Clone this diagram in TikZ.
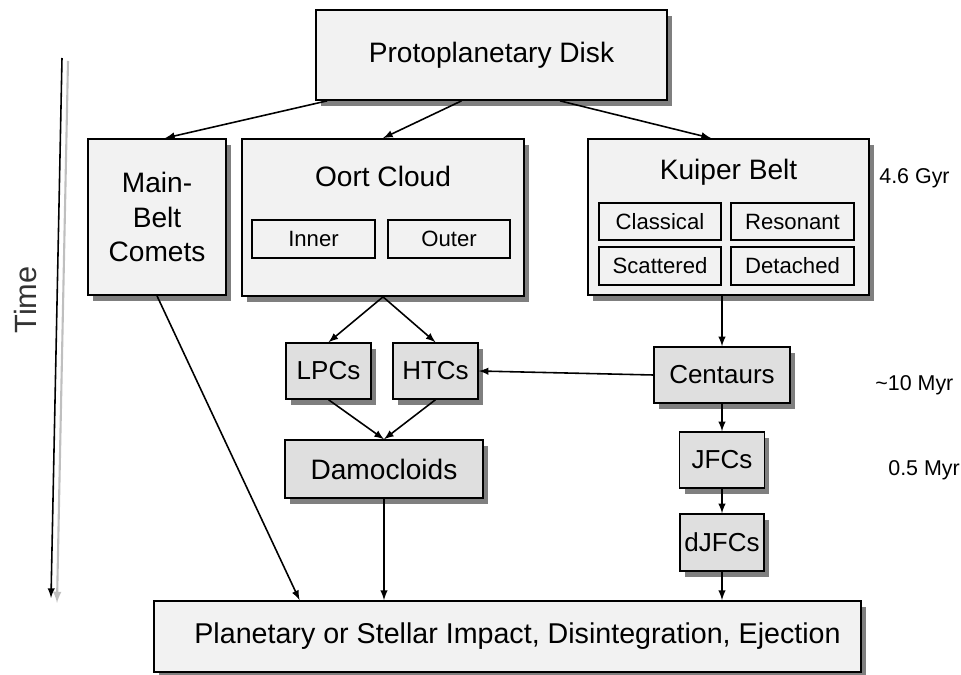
\documentclass[tikz,border=0pt]{standalone}
\usepackage{fontspec}
\setmainfont{Liberation Sans}
\usetikzlibrary{shadows}
\definecolor{boxlight}{HTML}{F2F2F2}
\definecolor{boxdark}{HTML}{DFDFDF}
\definecolor{shadowgray}{HTML}{7F7F7F}
\begin{document}
\begin{tikzpicture}[x=0.02cm,y=-0.02cm,
    bigbox/.style={draw,line width=1pt,fill=boxlight,inner sep=0pt,
        drop shadow={shadow xshift=0.1cm,shadow yshift=-0.12cm,fill=shadowgray,opacity=1},
        font=\fontsize{16}{19.6}\selectfont},
    subbox/.style={draw,line width=1.4pt,fill=boxlight,inner sep=0pt,
        minimum width=2.45cm,minimum height=0.75cm,font=\fontsize{12.6}{15}\selectfont},
    smallbox/.style={draw,line width=0.8pt,fill=boxdark,inner sep=0pt,
        drop shadow={shadow xshift=0.1cm,shadow yshift=-0.12cm,fill=shadowgray,opacity=1},
        minimum height=1.12cm,font=\fontsize{14.8}{17}\selectfont},
    title/.style={anchor=base,font=\fontsize{16}{19.6}\selectfont},
    timenote/.style={anchor=west,inner sep=0pt,font=\fontsize{12.2}{14}\selectfont},
    conn/.style={-latex,line width=0.9pt}]
    \useasboundingbox (0,0) rectangle (961,675);
    %source
    \node[bigbox,minimum width=7.02cm,minimum height=1.8cm] (proto) at (491.5,55) {Protoplanetary Disk};
    %reservoirs
    \node[bigbox,minimum width=2.76cm,minimum height=3.12cm,align=center] (mbc) at (157,217) {Main-\\Belt\\Comets};
    \node[bigbox,minimum width=5.64cm,minimum height=3.14cm] (oort) at (383,217.5) {};
    \node[title] (oorttitle) at (383,187) {Oort Cloud};
    \node[subbox] (inner) at (313.5,239) {Inner};
    \node[subbox] (outer) at (449,239) {Outer};
    \node[bigbox,minimum width=5.62cm,minimum height=3.12cm] (kuiper) at (728.5,217) {};
    \node[title] (kuipertitle) at (728.5,180) {Kuiper Belt};
    \node[subbox] (classical) at (660,221.5) {Classical};
    \node[subbox] (resonant) at (792.5,221.5) {Resonant};
    \node[subbox] (scattered) at (660,266) {Scattered};
    \node[subbox] (detached) at (792.5,266) {Detached};
    %populations
    \node[smallbox,minimum width=1.7cm] (lpcs) at (328.5,371) {LPCs};
    \node[smallbox,minimum width=1.7cm] (htcs) at (435.5,371) {HTCs};
    \node[smallbox,minimum width=3.96cm,minimum height=1.16cm,font=\fontsize{16}{19}\selectfont] (damo) at (384,469) {Damocloids};
    \node[smallbox,minimum width=2.72cm] (cent) at (722,375) {Centaurs};
    \node[smallbox,minimum width=1.7cm] (jfc) at (722,460) {JFCs};
    \node[smallbox,minimum width=1.68cm,minimum height=1.14cm] (djfc) at (722,542.5) {dJFCs};
    %end states
    \node[bigbox,minimum width=14.14cm,minimum height=1.42cm,font=\fontsize{16.3}{19}\selectfont] (end) at (507.5,636.5) {\hspace{0.4cm}Planetary or Stellar Impact, Disintegration, Ejection};
    %flows
    \draw[conn] ([xshift=0.24cm]proto.south west) -- ([xshift=0.16cm]mbc.north);
    \draw[conn] ([xshift=-0.6cm]proto.south) -- (oort.north);
    \draw[conn] ([xshift=1.37cm]proto.south) -- ([xshift=-0.35cm]kuiper.north);
    \draw[conn] (oort.south) -- (lpcs.north);
    \draw[conn] (oort.south) -- (htcs.north);
    \draw[conn] (lpcs.south) -- (damo.north);
    \draw[conn] (htcs.south) -- (damo.north);
    \draw[conn] (cent.west) -- (htcs.east);
    \draw[conn] (cent.north |- kuiper.south) -- (cent.north);
    \draw[conn] (cent.south) -- (jfc.north);
    \draw[conn] (jfc.south) -- (djfc.north);
    \draw[conn] (djfc.south) -- (djfc.south |- end.north);
    \draw[conn] (damo.south) -- (damo.south |- end.north);
    \draw[conn] (mbc.south) -- ([xshift=-4.16cm]end.north);
    %time axis
    \coordinate (ttop) at (62,58);
    \coordinate (tbot) at (51,598);
    \draw[-latex,line width=1.2pt,black!25] ([xshift=0.12cm,yshift=-0.06cm]ttop) -- ([xshift=0.12cm,yshift=-0.1cm]tbot);
    \draw[conn] (ttop) -- (tbot);
    \node[rotate=90,text=black!80,font=\fontsize{17.5}{20}\selectfont] (timelabel) at (26,300) {Time};
    \node[timenote] (gyr) at (879,178) {4.6 Gyr};
    \node[timenote] (tenmyr) at (875,385) {\textasciitilde 10 Myr};
    \node[timenote] (halfmyr) at (888,470) {0.5 Myr};
\end{tikzpicture}
\end{document}
